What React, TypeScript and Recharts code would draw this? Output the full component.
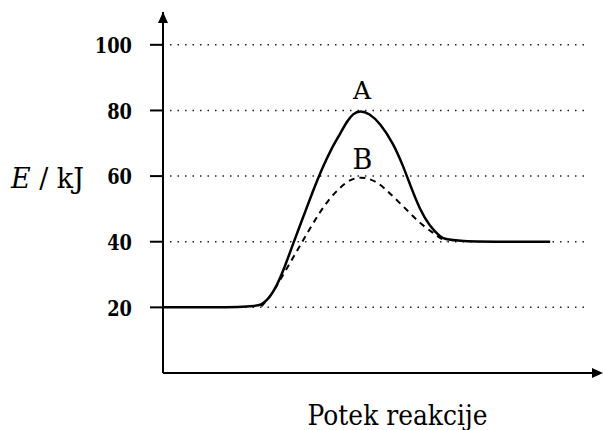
import React from 'react';
import { ComposedChart, Line, XAxis, YAxis, ReferenceLine, ReferenceDot } from 'recharts';

// reaction progress (arbitrary units 0-100) and energy in kJ
const progressA = [0, 21.5, 22.95, 24.5, 26.0, 27.5, 29.8, 32.1, 34.4, 36.3, 38.5, 40.5, 42.0, 43.5, 45.1, 47.2, 49.7, 52.7, 55.0, 56.5, 58.8, 61.1, 63.4, 65.3, 88.6];
const energyA = [20, 20, 21.2, 23.2, 26.5, 31, 39.5, 47.6, 55.8, 62, 68.3, 72.8, 76.5, 79.1, 80, 79.1, 76.1, 70, 62.9, 57.5, 49.7, 44.6, 41.5, 40, 40];

const progressB = [22.5, 24.5, 26.8, 29.1, 31.35, 33.6, 35.9, 38.2, 40.5, 42.5, 44.7, 46.8, 48.9, 50.8, 52.7, 55.8, 58.8, 61.9, 63.5, 65.0];
const energyB = [20.3, 23.2, 28.3, 33.6, 38.8, 44, 49, 53.3, 56.5, 58.7, 59.7, 59.4, 58.2, 56.2, 53.7, 49.7, 45.6, 42.6, 41, 40.1];

const yTicks = [20, 40, 60, 80, 100];
const curveNames = ['A', 'B'];

const dataA = progressA.map((x, i) => ({ x, e: energyA[i] }));
const dataB = progressB.map((x, i) => ({ x, e: energyB[i] }));

const peakOf = (d: { x: number; e: number }[]) => d.reduce((m, p) => (p.e > m.e ? p : m), d[0]);

const serif = 'DejaVu Serif';

// DejaVu is wider than the Times face of the original, so squeeze the labels a bit
const EnergyTick = (props: any) => {
  const { x, y, payload } = props;
  const s = String(payload.value);
  return (
    <text
      x={x}
      y={y}
      dy="0.36em"
      textAnchor="end"
      fontFamily={serif}
      fontSize={23}
      fontWeight="bold"
      fill="#000"
      textLength={s.length * 12.4}
      lengthAdjust="spacingAndGlyphs"
    >
      {s}
    </text>
  );
};

export default function App() {
  const peakA = peakOf(dataA);
  const peakB = peakOf(dataB);
  return (
    <div style={{ position: 'absolute', left: 0, top: 0, background: '#fff' }}>
      <ComposedChart width={603} height={430} margin={{ top: 12, right: 3, left: 0, bottom: 0 }}>
        <XAxis
          type="number"
          dataKey="x"
          domain={[0, 100]}
          tick={false}
          tickLine={false}
          height={57}
          axisLine={{ stroke: '#000', strokeWidth: 2 }}
          label={{
            content: (p: any) => (
              <text
                x={p.viewBox.x + p.viewBox.width / 2 + 16}
                y={p.viewBox.y + 52}
                textAnchor="middle"
                fontFamily={serif}
                fontSize={27}
                fill="#000"
                textLength={180}
                lengthAdjust="spacingAndGlyphs"
              >
                Potek reakcije
              </text>
            ),
          }}
        />
        <YAxis
          type="number"
          domain={[0, 110]}
          ticks={yTicks}
          width={163}
          tickSize={13}
          tickMargin={18}
          axisLine={{ stroke: '#000', strokeWidth: 2 }}
          tickLine={{ stroke: '#000', strokeWidth: 2 }}
          tick={<EnergyTick />}
          label={{
            content: () => (
              <text x={11} y={188} fontFamily={serif} fontSize={27} fill="#000" textLength={73} lengthAdjust="spacingAndGlyphs">
                <tspan fontStyle="italic">E</tspan> / kJ
              </text>
            ),
          }}
        />
        {yTicks.map((v) => (
          <ReferenceLine
            key={v}
            segment={[{ x: 1.6, y: v }, { x: 97.7, y: v }]}
            stroke="#222"
            strokeWidth={1.5}
            strokeDasharray="1.5 6"
          />
        ))}
        <ReferenceDot
          x={0}
          y={110}
          ifOverflow="visible"
          shape={(p: any) => (
            <polygon points={`${p.cx - 5},${p.cy + 11} ${p.cx},${p.cy} ${p.cx + 5},${p.cy + 11}`} fill="#000" />
          )}
        />
        <ReferenceDot
          x={100}
          y={0}
          ifOverflow="visible"
          shape={(p: any) => (
            <polygon points={`${p.cx - 8},${p.cy - 5} ${p.cx + 3},${p.cy} ${p.cx - 8},${p.cy + 5}`} fill="#000" />
          )}
        />
        <Line
          data={dataB}
          dataKey="e"
          type="basis"
          stroke="#000"
          strokeWidth={2}
          strokeDasharray="6 5"
          dot={false}
          activeDot={false}
          isAnimationActive={false}
        />
        <Line
          data={dataA}
          dataKey="e"
          type="basis"
          stroke="#000"
          strokeWidth={2.5}
          dot={false}
          activeDot={false}
          isAnimationActive={false}
        />
        <ReferenceDot
          x={peakA.x}
          y={peakA.e}
          r={0}
          fill="none"
          stroke="none"
          label={{
            content: (p: any) => (
              <text x={p.viewBox.x + 2} y={p.viewBox.y - 11} textAnchor="middle" fontFamily={serif} fontSize={25} fill="#000">
                {curveNames[0]}
              </text>
            ),
          }}
        />
        <ReferenceDot
          x={peakB.x}
          y={peakB.e}
          r={0}
          fill="none"
          stroke="none"
          label={{
            content: (p: any) => (
              <text x={p.viewBox.x + 4} y={p.viewBox.y - 8} textAnchor="middle" fontFamily={serif} fontSize={27} fill="#000">
                {curveNames[1]}
              </text>
            ),
          }}
        />
      </ComposedChart>
    </div>
  );
}
